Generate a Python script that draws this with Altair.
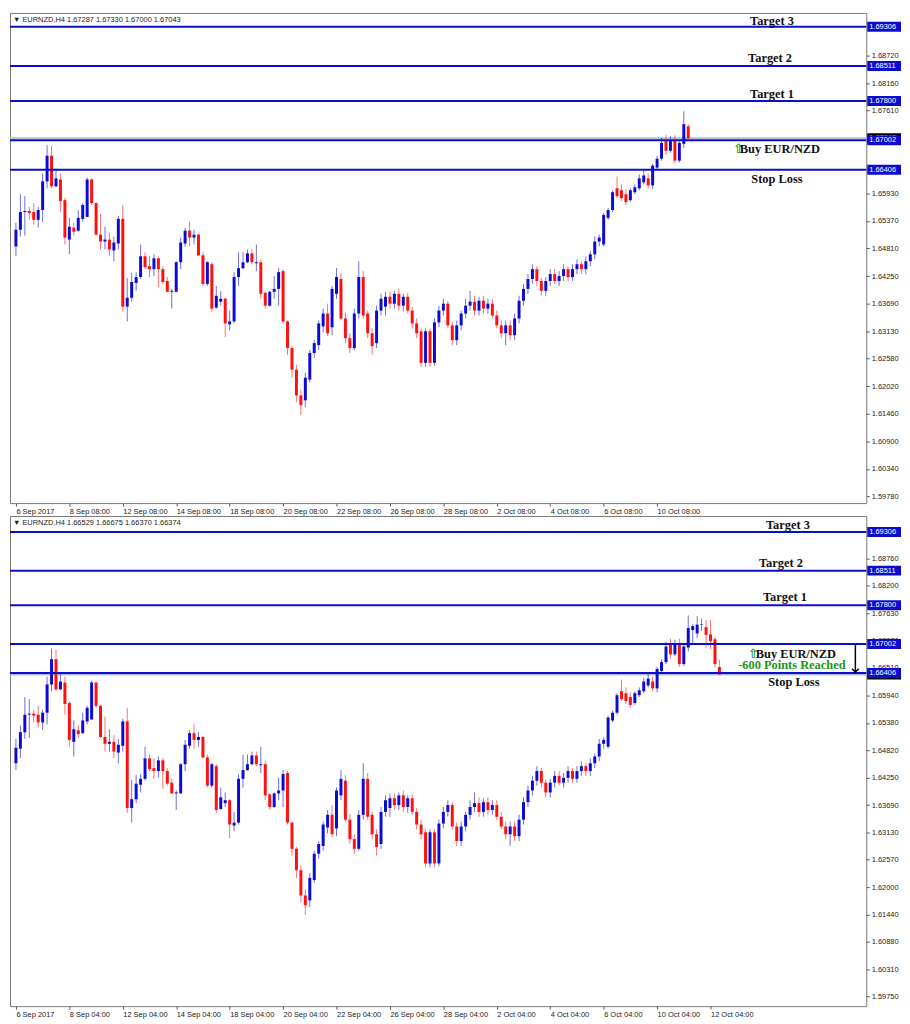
import altair as alt
import pandas as pd

# ---------------- H4 candles, index g: 0 = 6 Sep 2017 04:00 ----------------
OPEN = [
    1.6455, 1.6485, 1.6519, 1.6555, 1.6557, 1.6555, 1.6539, 1.6559, 1.6617, 1.6669,
    1.6607, 1.6621, 1.6579, 1.6499, 1.6523, 1.6517, 1.6541, 1.6545, 1.6621, 1.6573,
    1.6509, 1.6495, 1.6499, 1.6477, 1.6491, 1.6541, 1.6363, 1.6381, 1.6411, 1.6423,
    1.6465, 1.6445, 1.6439, 1.6461, 1.6439, 1.6415, 1.6393, 1.6393, 1.6453, 1.6491,
    1.6517, 1.6503, 1.6509, 1.6467, 1.6409, 1.6449, 1.6361, 1.6373, 1.6379, 1.6327,
    1.6333, 1.6423, 1.6441, 1.6453, 1.6471, 1.6451, 1.6453, 1.6391, 1.6365, 1.6393,
    1.6399, 1.6435, 1.6333, 1.6279, 1.6235, 1.6183, 1.6173, 1.6215, 1.6269, 1.6285,
    1.6323, 1.6349, 1.6321, 1.6389, 1.6419, 1.6339, 1.6299, 1.6279, 1.6349, 1.6423,
    1.6349, 1.6309, 1.6289, 1.6355, 1.6363, 1.6383, 1.6369, 1.6389, 1.6365, 1.6383,
    1.6355, 1.6329, 1.6313, 1.6249, 1.6313, 1.6249, 1.6331, 1.6355, 1.6369, 1.6325,
    1.6295, 1.6325, 1.6349, 1.6365, 1.6373, 1.6355, 1.6375, 1.6359, 1.6369, 1.6345,
    1.6325, 1.6309, 1.6325, 1.6305, 1.6339, 1.6375, 1.6399, 1.6419, 1.6439, 1.6415,
    1.6395, 1.6415, 1.6429, 1.6415, 1.6425, 1.6439, 1.6423, 1.6439, 1.6449, 1.6439,
    1.6455, 1.6469, 1.6495, 1.6489, 1.6543, 1.6559, 1.6603, 1.6599, 1.6591, 1.6579,
    1.6595, 1.6603, 1.6615, 1.6623, 1.6609, 1.6645, 1.6663, 1.6699, 1.6679, 1.6701,
    1.6659, 1.6693,
]
HIGH = [
    1.6505, 1.6533, 1.6591, 1.6587, 1.6565, 1.6573, 1.6565, 1.6633, 1.6691, 1.6689,
    1.6643, 1.6633, 1.6583, 1.6543, 1.6533, 1.6559, 1.6573, 1.6625, 1.6623, 1.6575,
    1.6551, 1.6525, 1.6513, 1.6505, 1.6547, 1.6569, 1.6421, 1.6431, 1.6433, 1.6489,
    1.6473, 1.6465, 1.6469, 1.6465, 1.6445, 1.6423, 1.6399, 1.6455, 1.6503, 1.6523,
    1.6535, 1.6519, 1.6511, 1.6473, 1.6455, 1.6453, 1.6405, 1.6395, 1.6381, 1.6355,
    1.6433, 1.6473, 1.6473, 1.6479, 1.6479, 1.6489, 1.6459, 1.6393, 1.6395, 1.6425,
    1.6441, 1.6439, 1.6335, 1.6283, 1.6245, 1.6195, 1.6229, 1.6275, 1.6295, 1.6335,
    1.6359, 1.6369, 1.6405, 1.6441, 1.6431, 1.6351, 1.6309, 1.6359, 1.6455, 1.6435,
    1.6355, 1.6319, 1.6365, 1.6389, 1.6393, 1.6393, 1.6395, 1.6399, 1.6389, 1.6391,
    1.6363, 1.6339, 1.6319, 1.6319, 1.6319, 1.6339, 1.6365, 1.6379, 1.6375, 1.6333,
    1.6335, 1.6355, 1.6379, 1.6395, 1.6385, 1.6383, 1.6385, 1.6379, 1.6379, 1.6355,
    1.6335, 1.6335, 1.6335, 1.6349, 1.6385, 1.6409, 1.6429, 1.6449, 1.6445, 1.6421,
    1.6423, 1.6439, 1.6439, 1.6435, 1.6449, 1.6445, 1.6449, 1.6459, 1.6455, 1.6465,
    1.6475, 1.6505, 1.6509, 1.6553, 1.6563, 1.6599, 1.6627, 1.6611, 1.6601, 1.6603,
    1.6611, 1.6631, 1.6641, 1.6633, 1.6653, 1.6669, 1.6705, 1.6711, 1.6709, 1.6711,
    1.6701, 1.6759,
]
LOW = [
    1.6441, 1.6465, 1.6505, 1.6507, 1.6539, 1.6529, 1.6523, 1.6535, 1.6603, 1.6603,
    1.6605, 1.6555, 1.6489, 1.6469, 1.6507, 1.6515, 1.6535, 1.6545, 1.6569, 1.6507,
    1.6479, 1.6479, 1.6465, 1.6455, 1.6479, 1.6353, 1.6333, 1.6373, 1.6395, 1.6419,
    1.6439, 1.6423, 1.6425, 1.6403, 1.6409, 1.6393, 1.6359, 1.6393, 1.6439, 1.6485,
    1.6485, 1.6489, 1.6465, 1.6405, 1.6405, 1.6353, 1.6359, 1.6365, 1.6301, 1.6315,
    1.6329, 1.6405, 1.6439, 1.6451, 1.6449, 1.6435, 1.6379, 1.6359, 1.6363, 1.6379,
    1.6365, 1.6329, 1.6265, 1.6219, 1.6169, 1.6143, 1.6159, 1.6209, 1.6259, 1.6275,
    1.6311, 1.6303, 1.6305, 1.6379, 1.6335, 1.6289, 1.6269, 1.6275, 1.6339, 1.6339,
    1.6299, 1.6265, 1.6279, 1.6345, 1.6345, 1.6359, 1.6359, 1.6355, 1.6353, 1.6349,
    1.6319, 1.6299, 1.6241, 1.6241, 1.6241, 1.6243, 1.6321, 1.6345, 1.6319, 1.6285,
    1.6285, 1.6315, 1.6339, 1.6355, 1.6345, 1.6345, 1.6349, 1.6349, 1.6339, 1.6319,
    1.6299, 1.6285, 1.6295, 1.6295, 1.6329, 1.6365, 1.6389, 1.6409, 1.6405, 1.6385,
    1.6385, 1.6405, 1.6409, 1.6405, 1.6415, 1.6415, 1.6415, 1.6429, 1.6429, 1.6429,
    1.6445, 1.6459, 1.6485, 1.6485, 1.6539, 1.6555, 1.6583, 1.6577, 1.6569, 1.6575,
    1.6591, 1.6599, 1.6611, 1.6603, 1.6601, 1.6641, 1.6659, 1.6671, 1.6675, 1.6653,
    1.6655, 1.6685,
]
CLOSE = [
    1.6487, 1.6519, 1.6555, 1.6557, 1.6553, 1.6539, 1.6559, 1.6617, 1.6669, 1.6607,
    1.6623, 1.6577, 1.6503, 1.6525, 1.6515, 1.6543, 1.6569, 1.6621, 1.6573, 1.6509,
    1.6495, 1.6499, 1.6479, 1.6493, 1.6541, 1.6363, 1.6381, 1.6413, 1.6423, 1.6465,
    1.6443, 1.6439, 1.6461, 1.6439, 1.6413, 1.6393, 1.6395, 1.6453, 1.6493, 1.6517,
    1.6503, 1.6509, 1.6467, 1.6409, 1.6453, 1.6359, 1.6385, 1.6379, 1.6329, 1.6333,
    1.6423, 1.6441, 1.6453, 1.6471, 1.6453, 1.6453, 1.6389, 1.6365, 1.6393, 1.6399,
    1.6433, 1.6333, 1.6279, 1.6235, 1.6183, 1.6163, 1.6219, 1.6269, 1.6289, 1.6329,
    1.6349, 1.6309, 1.6399, 1.6423, 1.6339, 1.6299, 1.6279, 1.6349, 1.6423, 1.6345,
    1.6309, 1.6283, 1.6355, 1.6379, 1.6383, 1.6369, 1.6389, 1.6365, 1.6383, 1.6355,
    1.6329, 1.6309, 1.6249, 1.6313, 1.6249, 1.6331, 1.6355, 1.6369, 1.6325, 1.6295,
    1.6325, 1.6349, 1.6365, 1.6373, 1.6355, 1.6375, 1.6359, 1.6369, 1.6345, 1.6325,
    1.6309, 1.6325, 1.6305, 1.6339, 1.6375, 1.6399, 1.6419, 1.6439, 1.6415, 1.6395,
    1.6415, 1.6429, 1.6415, 1.6425, 1.6439, 1.6423, 1.6439, 1.6449, 1.6439, 1.6455,
    1.6469, 1.6495, 1.6503, 1.6549, 1.6559, 1.6595, 1.6587, 1.6583, 1.6575, 1.6599,
    1.6605, 1.6623, 1.6629, 1.6609, 1.6649, 1.6663, 1.6695, 1.6679, 1.6699, 1.6659,
    1.6695, 1.6733,
]

# top panel: still-forming last candle (g = 152)
TOP_LAST = [1.67287, 1.67330, 1.67000, 1.67043]
# bottom panel: candles g = 152 .. 158
TAIL_OPEN = [1.6729, 1.6722, 1.6740, 1.6735, 1.6720, 1.6710, 1.66529]
TAIL_HIGH = [1.6741, 1.6758, 1.6753, 1.6750, 1.6750, 1.6715, 1.66675]
TAIL_LOW = [1.6700, 1.6712, 1.6727, 1.6693, 1.6690, 1.6652, 1.66370]
TAIL_CLOSE = [1.6737, 1.6740, 1.6741, 1.6719, 1.6706, 1.6659, 1.66374]

LEVELS = [1.69306, 1.68511, 1.67800, 1.67002, 1.66406]
LEVEL_TEXT = ["1.69306", "1.68511", "1.67800", "1.67002", "1.66406"]

TOP_Y_TICKS = [1.68720, 1.68160, 1.67610, 1.66400, 1.65930, 1.65370, 1.64810, 1.64250,
               1.63690, 1.63130, 1.62580, 1.62020, 1.61460, 1.60900, 1.60340, 1.59780]
BOT_Y_TICKS = [1.68760, 1.68200, 1.67630, 1.67070, 1.66510, 1.65940, 1.65380, 1.64820,
               1.64250, 1.63690, 1.63130, 1.62570, 1.62000, 1.61440, 1.60880, 1.60310, 1.59750]

TOP_X_TICKS = [1, 13, 25, 37, 49, 61, 73, 85, 97, 109, 121, 133, 145]
TOP_X_LABELS = ["6 Sep 2017", "8 Sep 08:00", "12 Sep 08:00", "14 Sep 08:00", "18 Sep 08:00",
                "20 Sep 08:00", "22 Sep 08:00", "26 Sep 08:00", "28 Sep 08:00", "2 Oct 08:00",
                "4 Oct 08:00", "6 Oct 08:00", "10 Oct 08:00"]
BOT_X_TICKS = [0, 12, 24, 36, 48, 60, 72, 84, 96, 108, 120, 132, 144, 156]
BOT_X_LABELS = ["6 Sep 2017", "8 Sep 04:00", "12 Sep 04:00", "14 Sep 04:00", "18 Sep 04:00",
                "20 Sep 04:00", "22 Sep 04:00", "26 Sep 04:00", "28 Sep 04:00", "2 Oct 04:00",
                "4 Oct 04:00", "6 Oct 04:00", "10 Oct 04:00", "12 Oct 04:00"]

TOP_HEADER = "▼ EURNZD,H4  1.67287 1.67330 1.67000 1.67043"
BOT_HEADER = "▼ EURNZD,H4  1.66529 1.66675 1.66370 1.66374"

# ---------------- styling ----------------
W = 863
BLUE = "#0c0cd0"
RED = "#ff1010"
GREEN = "#1a961a"
AXFONT = "Liberation Sans"
SERIF = "Liberation Serif"


def candles_df(gs, o, h, l, c):
    df = pd.DataFrame({"g": gs, "o": o, "h": h, "l": l, "c": c})
    df["dir"] = ["up" if cc >= oo else "down" for oo, cc in zip(o, c)]
    return df


top_df = candles_df(list(range(1, 153)),
                    OPEN[1:] + [TOP_LAST[0]], HIGH[1:] + [TOP_LAST[1]],
                    LOW[1:] + [TOP_LAST[2]], CLOSE[1:] + [TOP_LAST[3]])
bot_df = candles_df(list(range(0, 159)),
                    OPEN + TAIL_OPEN, HIGH + TAIL_HIGH, LOW + TAIL_LOW, CLOSE + TAIL_CLOSE)


def panel(df, xdom, ydom, height, xt, xl, yt, bid, header, notes, arrow=False):
    xs = alt.Scale(domain=xdom, nice=False, zero=False)
    ys = alt.Scale(domain=ydom, nice=False, zero=False)
    lab_expr = ("[" + ",".join("'%s'" % s for s in xl) + "][indexof(["
                + ",".join(str(v) for v in xt) + "], datum.value)]")
    xaxis = alt.Axis(values=xt, labelExpr=lab_expr, title=None, grid=False, domain=False,
                     ticks=True, tickSize=3, tickColor="#555", labelAlign="left",
                     labelBaseline="top", labelPadding=1, labelFlush=False,
                     labelOverlap=False, labelFont=AXFONT, labelFontSize=7.5,
                     labelColor="#222")
    yaxis = alt.Axis(orient="right", values=yt, format=".5f", title=None, grid=False,
                     domain=False, tickSize=3, tickColor="#555", labelPadding=2,
                     labelFlush=False, labelOverlap=False, labelFont=AXFONT,
                     labelFontSize=7.5, labelColor="#222")

    def X(f):
        return alt.X(f, type="quantitative", scale=xs, axis=xaxis)

    def Y(f):
        return alt.Y(f, type="quantitative", scale=ys, axis=yaxis)

    color = alt.Color("dir:N", scale=alt.Scale(domain=["up", "down"], range=[BLUE, RED]),
                      legend=None)
    layers = []
    base = alt.Chart(df)
    bid_df = pd.DataFrame({"p": [bid], "t": ["%.5f" % bid]})
    layers.append(alt.Chart(bid_df).mark_rule(color="#b4bcd6", strokeWidth=2)
                  .encode(y=Y("p")))
    layers.append(base.mark_rule(strokeWidth=1, opacity=0.6)
                  .encode(x=X("g"), y=Y("l"), y2="h:Q", color=color))
    layers.append(base.mark_bar(size=3)
                  .encode(x=X("g"), y=Y("o"), y2="c:Q", color=color))
    lev_df = pd.DataFrame({"p": LEVELS, "t": LEVEL_TEXT})
    layers.append(alt.Chart(lev_df).mark_rule(color=BLUE, strokeWidth=2).encode(y=Y("p")))
    layers.append(alt.Chart(pd.DataFrame({"t": [header]}))
                  .mark_text(align="left", baseline="top", font=AXFONT, fontSize=7.5,
                             color="#222")
                  .encode(x=alt.value(3), y=alt.value(3), text="t:N"))
    for (txt, px, price, dy, col, fnt, fs) in notes:
        layers.append(alt.Chart(pd.DataFrame({"p": [price], "t": [txt]}))
                      .mark_text(align="center", baseline="middle", font=fnt,
                                 fontWeight="bold", fontSize=fs, color=col, dy=dy)
                      .encode(x=alt.value(px), y=Y("p"), text="t:N"))
    if arrow:
        adf = pd.DataFrame({"a": [LEVELS[3]], "b": [LEVELS[4]]})
        layers.append(alt.Chart(adf).mark_rule(color="black", strokeWidth=1.5)
                      .encode(x=alt.value(852), y=Y("a"), y2="b:Q"))
        layers.append(alt.Chart(adf).mark_point(shape="M-1,-1L0,0L1,-1", filled=False,
                                                color="black", strokeWidth=1.5, size=45,
                                                yOffset=-1, opacity=1)
                      .encode(x=alt.value(852), y=Y("b")))
    layers.append(alt.Chart(bid_df).mark_rect(color="#000000", yOffset=-5, y2Offset=5)
                  .encode(x=alt.value(W + 1), x2=alt.value(W + 35), y=Y("p"), y2="p:Q"))
    layers.append(alt.Chart(bid_df).mark_text(color="white", align="left", baseline="middle",
                                              font=AXFONT, fontSize=7.5)
                  .encode(x=alt.value(W + 3), y=Y("p"), text="t:N"))
    layers.append(alt.Chart(lev_df).mark_rect(color=BLUE, yOffset=-5, y2Offset=5)
                  .encode(x=alt.value(W + 1), x2=alt.value(W + 35), y=Y("p"), y2="p:Q"))
    layers.append(alt.Chart(lev_df).mark_text(color="white", align="left", baseline="middle",
                                              font=AXFONT, fontSize=7.5)
                  .encode(x=alt.value(W + 3), y=Y("p"), text="t:N"))
    return alt.layer(*layers).properties(width=W, height=height)


top_notes = [
    ("Target 3", 768, LEVELS[0], -6, "#111", SERIF, 12.5),
    ("Target 2", 766, LEVELS[1], -8, "#111", SERIF, 12.5),
    ("Target 1", 768, LEVELS[2], -7, "#111", SERIF, 12.5),
    ("⇧", 734, LEVELS[3], 9, GREEN, "DejaVu Sans", 13),
    ("Buy EUR/NZD", 776, LEVELS[3], 9, "#111", SERIF, 12.5),
    ("Stop Loss", 773, LEVELS[4], 9, "#111", SERIF, 12.5),
]
bot_notes = [
    ("Target 3", 784, LEVELS[0], -7, "#111", SERIF, 12.5),
    ("Target 2", 777, LEVELS[1], -8, "#111", SERIF, 12.5),
    ("Target 1", 781, LEVELS[2], -8, "#111", SERIF, 12.5),
    ("⇧", 749, LEVELS[3], 10, GREEN, "DejaVu Sans", 13),
    ("Buy EUR/NZD", 792, LEVELS[3], 10, "#111", SERIF, 12.5),
    ("-600 Points Reached", 788, LEVELS[3], 21, GREEN, SERIF, 12.5),
    ("Stop Loss", 790, LEVELS[4], 9, "#111", SERIF, 12.5),
]

top = panel(top_df, [0.78, 0.78 + W / 4.54], [1.59646, 1.69586], 494,
            TOP_X_TICKS, TOP_X_LABELS, TOP_Y_TICKS, TOP_LAST[3], TOP_HEADER, top_notes)
bottom = panel(bot_df, [-0.22, -0.22 + W / 4.54], [1.59555, 1.69635], 494,
               BOT_X_TICKS, BOT_X_LABELS, BOT_Y_TICKS, TAIL_CLOSE[-1], BOT_HEADER, bot_notes,
               arrow=True)

chart = (alt.vconcat(top, bottom, spacing=0)
         .properties(padding={"left": 0, "top": 0, "right": 0, "bottom": 0},
                     background="white")
         .configure(padding={"left": 0, "top": 0, "right": 0, "bottom": 0})
         .configure_view(stroke="#7a7a7a", strokeWidth=1))

chart.save("out.html", embed_options={"renderer": "svg", "actions": False})
